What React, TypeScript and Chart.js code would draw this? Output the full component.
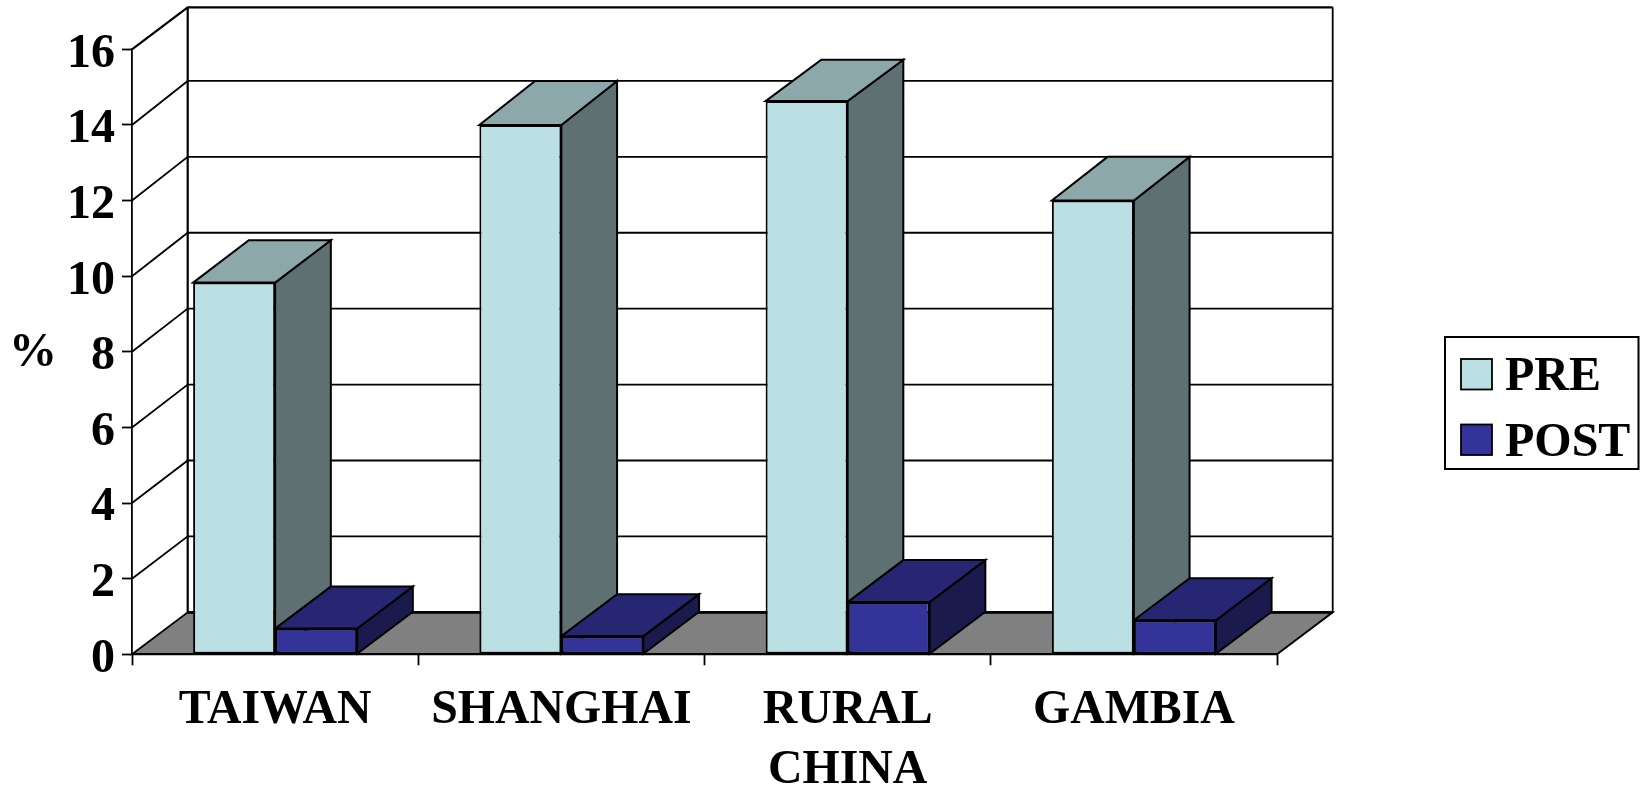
import React, { useEffect, useRef } from "react";
import { Chart, registerables } from "chart.js";

Chart.register(...registerables);

const categories: (string | string[])[] = ["TAIWAN", "SHANGHAI", ["RURAL", "CHINA"], "GAMBIA"];
const preValues = [9.83, 14.0, 14.63, 12.0];
const postValues = [0.68, 0.48, 1.38, 0.9];
const seriesNames = ["PRE", "POST"];
const frontColors = ["#BBE0E3", "#333399"];
const topColors = ["#8CA8AA", "#262673"];
const sideColors = ["#5E7072", "#1A1A4D"];
// Vertical run of each pre bar's top face, which differs slightly between bars.
const preTopRun = [42.3, 44, 41.3, 43.7];

const FONT = '"Liberation Serif", "Times New Roman", serif';
const DEPTH_X = 55.7;
const DEPTH_Y = 42;
const INK = "#000000";

function poly(ctx: CanvasRenderingContext2D, pts: number[][], fill: string | null, lw: number) {
  ctx.beginPath();
  pts.forEach(([x, y], i) => (i ? ctx.lineTo(x, y) : ctx.moveTo(x, y)));
  ctx.closePath();
  if (fill) {
    ctx.fillStyle = fill;
    ctx.fill();
  }
  ctx.lineWidth = lw;
  ctx.strokeStyle = INK;
  ctx.lineJoin = "miter";
  ctx.stroke();
}

function seg(ctx: CanvasRenderingContext2D, pts: number[][], lw: number) {
  ctx.beginPath();
  pts.forEach(([x, y], i) => (i ? ctx.lineTo(x, y) : ctx.moveTo(x, y)));
  ctx.lineWidth = lw;
  ctx.strokeStyle = INK;
  ctx.stroke();
}

// Back wall, side gridlines and floor of the 3D plot box.
const wallsPlugin = {
  id: "walls",
  beforeDraw(chart: any) {
    const { ctx, chartArea, scales } = chart;
    const { left, right, bottom, top } = chartArea;
    const bx = left + DEPTH_X;
    const rx = right + DEPTH_X;
    ctx.save();
    scales.y.ticks.forEach((t: any) => {
      if (t.value === 0) return;
      const y = scales.y.getPixelForValue(t.value);
      const run = t.value === 16 ? DEPTH_Y : DEPTH_Y + (t.value / 14) * 2;
      seg(ctx, [[left, y], [bx, y - run], [rx, y - run]], t.value === 16 ? 2.2 : 1.8);
    });
    seg(ctx, [[bx, top - DEPTH_Y], [bx, bottom - DEPTH_Y]], 2.2);
    seg(ctx, [[rx, top - DEPTH_Y], [rx, bottom - DEPTH_Y]], 1.8);
    poly(ctx, [[left, bottom], [bx, bottom - DEPTH_Y], [rx, bottom - DEPTH_Y], [right, bottom]], "#808080", 1.8);
    seg(ctx, [[bx, bottom - DEPTH_Y], [rx, bottom - DEPTH_Y]], 2.8);
    ctx.restore();
  },
};

// Top and side faces of every bar; the front faces come from the bar elements.
const depthPlugin = {
  id: "depth",
  beforeDatasetsDraw(chart: any) {
    const { ctx } = chart;
    ctx.save();
    categories.forEach((_, i) => {
      seriesNames.forEach((_name, d) => {
        const bar: any = chart.getDatasetMeta(d).data[i];
        const half = bar.width / 2;
        const l = bar.x - half;
        const r = bar.x + half;
        const t = bar.y;
        const b = bar.base;
        const run = d === 0 ? preTopRun[i] : DEPTH_Y;
        poly(ctx, [[r, t], [r + DEPTH_X, t - run], [r + DEPTH_X, b - DEPTH_Y], [r, b]], sideColors[d], 2);
        poly(ctx, [[l, t], [l + DEPTH_X, t - run], [r + DEPTH_X, t - run], [r, t]], topColors[d], 2);
      });
    });
    ctx.restore();
  },
};

// Boxed legend at the right and the horizontal "%" axis caption.
const annotationsPlugin = {
  id: "annotations",
  afterDraw(chart: any) {
    const { ctx } = chart;
    ctx.save();
    ctx.font = `bold 48px ${FONT}`;
    ctx.fillStyle = INK;
    ctx.textBaseline = "middle";
    ctx.textAlign = "center";
    ctx.fillText("%", 33, 354);

    ctx.strokeStyle = INK;
    ctx.lineWidth = 2;
    ctx.strokeRect(1445, 337, 193.5, 132);
    ctx.textAlign = "left";
    seriesNames.forEach((name, i) => {
      const y = 359 + i * 65.5;
      ctx.fillStyle = frontColors[i];
      ctx.fillRect(1461, y, 31, 30.5);
      ctx.lineWidth = 1.8;
      ctx.strokeRect(1461, y, 31, 30.5);
      ctx.fillStyle = INK;
      ctx.fillText(name, 1505, y + 19);
    });
    ctx.restore();
  },
};

export default function App() {
  const ref = useRef<HTMLCanvasElement | null>(null);

  useEffect(() => {
    const chart = new Chart(ref.current!, {
      type: "bar",
      data: {
        labels: categories as any,
        datasets: [preValues, postValues].map((data, i) => ({
          label: seriesNames[i],
          data,
          backgroundColor: frontColors[i],
          borderColor: INK,
          borderWidth: 2,
          borderSkipped: false,
          categoryPercentage: 0.573,
          barPercentage: 1,
        })),
      },
      plugins: [wallsPlugin, depthPlugin, annotationsPlugin],
      options: {
        animation: false,
        responsive: false,
        devicePixelRatio: 1,
        layout: { autoPadding: false, padding: { left: 0, right: 372, top: 49.3, bottom: 0 } },
        plugins: { legend: { display: false }, tooltip: { enabled: false } },
        scales: {
          x: {
            afterFit: (s: any) => {
              s.height = 131.7;
            },
            grid: { drawOnChartArea: false, drawTicks: true, tickLength: 11, tickColor: INK, tickWidth: 1.8 },
            border: { display: true, color: INK, width: 1.8 },
            ticks: {
              color: INK,
              padding: 15.5,
              autoSkip: false,
              maxRotation: 0,
              minRotation: 0,
              font: { family: FONT, size: 47.8, weight: "bold", lineHeight: 1.25 },
            },
          },
          y: {
            min: 0,
            max: 16,
            afterFit: (s: any) => {
              s.width = 132;
            },
            grid: { drawOnChartArea: false, drawTicks: true, tickLength: 10, tickColor: INK, tickWidth: 1.8 },
            border: { display: true, color: INK, width: 1.8 },
            ticks: {
              stepSize: 2,
              color: INK,
              padding: 7,
              labelOffset: 5,
              font: { family: FONT, size: 48, weight: "bold" },
            },
          },
        },
      },
    } as any);
    return () => chart.destroy();
  }, []);

  return (
    <canvas
      ref={ref}
      width={1649}
      height={786}
      style={{ position: "absolute", left: 0, top: 0, display: "block" }}
    />
  );
}
